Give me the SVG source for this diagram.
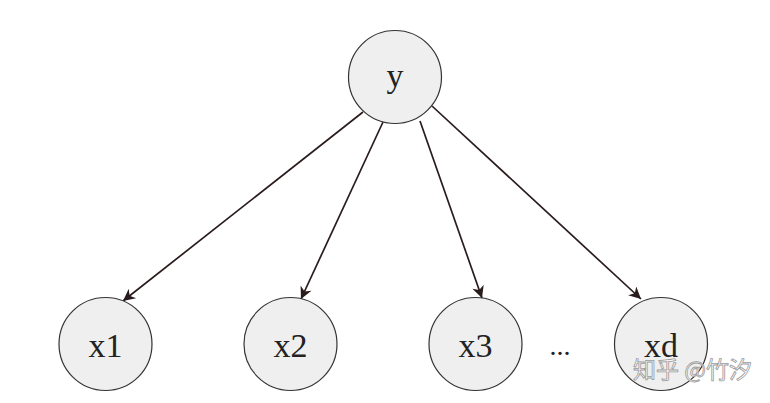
<svg xmlns="http://www.w3.org/2000/svg" width="770" height="403" viewBox="0 0 770 403">
<style>
.node circle{fill:#efefef;stroke:#333;stroke-width:1.2}
.node text{font-family:"Liberation Serif",serif;font-size:34px;fill:#222;text-anchor:middle}
.edge{stroke:#2a1c1c;stroke-width:1.7;fill:none;marker-end:url(#ah)}
.wm{font-family:"Noto Sans CJK SC",sans-serif;font-size:23px;fill:#ffffff;fill-opacity:0.85;stroke:#9a9a9a;stroke-width:0.8}
</style>
<defs>
<marker id="ah" viewBox="0 0 10 10" refX="10" refY="5" markerWidth="14" markerHeight="12" markerUnits="userSpaceOnUse" orient="auto">
<path d="M0,0 L10,5 L0,10 L3,5 z" fill="#2a1c1c"/>
</marker>
</defs>
<rect width="770" height="403" fill="#fff"/>
<g id="connectors">
<line class="edge" x1="363" y1="112" x2="123" y2="301"/>
<line class="edge" x1="383" y1="122" x2="301" y2="299"/>
<line class="edge" x1="420" y1="121" x2="482" y2="298"/>
<line class="edge" x1="432" y1="106" x2="641" y2="299"/>
</g>
<g id="y" class="node"><circle cx="395" cy="77" r="46.5"/><text x="395" y="87">y</text></g>
<g id="x1" class="node"><circle cx="105.5" cy="344" r="46.5"/><text x="105.5" y="357">x1</text></g>
<g id="x2" class="node"><circle cx="290.5" cy="344" r="46.5"/><text x="290.5" y="357">x2</text></g>
<g id="x3" class="node"><circle cx="475.5" cy="344" r="46.5"/><text x="475.5" y="357">x3</text></g>
<g id="xd" class="node"><circle cx="661" cy="344" r="46.5"/><text x="661" y="357">xd</text></g>
<text x="560" y="355" font-family="Liberation Serif,serif" font-size="28" fill="#222" text-anchor="middle">...</text>
<text class="wm" x="633" y="378">知乎 @竹汐</text>
</svg>
